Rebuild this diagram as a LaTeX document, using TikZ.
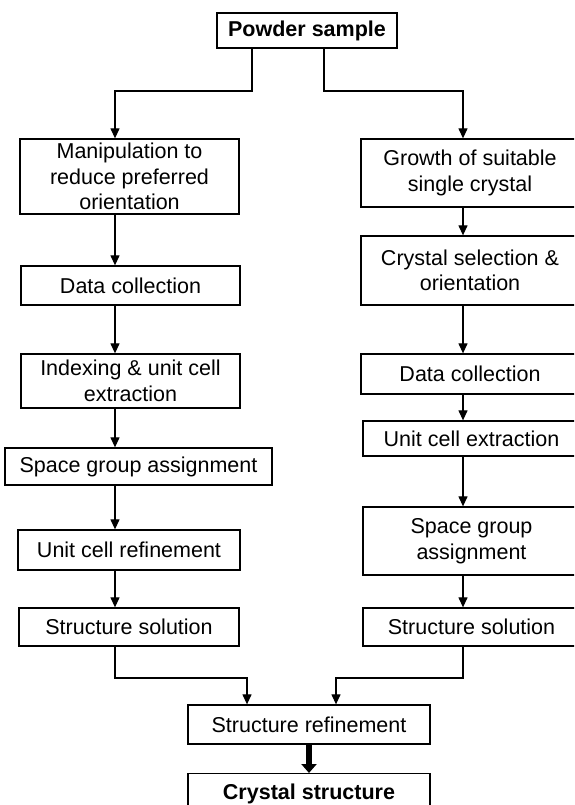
\documentclass[tikz,border=0pt]{standalone}
\usepackage{fontspec}
\setmainfont{Liberation Sans}
\usetikzlibrary{arrows.meta}
\begin{document}
\begin{tikzpicture}[x=1pt,y=-1pt,
  bx/.style={draw=black,line width=1.3pt,inner sep=0pt,align=center,
    font=\fontsize{21.5}{25.6}\selectfont},
  bxb/.style={bx,font=\fontsize{21.5}{25.6}\selectfont\bfseries},
  arr/.style={draw=black,line width=1.2pt,-{Triangle[length=10pt,width=9pt]}},
  thickarr/.style={draw=black,line width=6pt,-{Triangle[length=9pt,width=15pt]}}
]
\clip (0,0) rectangle (574,805);
% top
\node[bxb,minimum width=180,minimum height=35] (ps) at (307,30.5) {Powder sample};
% left column
\node[bx,minimum width=219,minimum height=75] (m1) at (129.5,176.5) {Manipulation to\\reduce preferred\\orientation};
\node[bx,minimum width=219,minimum height=39] (dc1) at (130.5,285.5) {Data collection};
\node[bx,minimum width=219,minimum height=54] (ix) at (130.5,381) {Indexing \& unit cell\\extraction};
\node[bx,minimum width=267,minimum height=37] (sg1) at (138.5,466.5) {Space group assignment};
\node[bx,minimum width=222,minimum height=40] (ucr) at (129,550) {Unit cell refinement};
\node[bx,minimum width=220,minimum height=38] (ss1) at (129,627) {Structure solution};
% right column
\node[bx,minimum width=218,minimum height=68] (gr) at (470,173) {Growth of suitable\\single crystal};
\node[bx,minimum width=218,minimum height=69] (cs2) at (470,270.5) {Crystal selection \&\\orientation};
\node[bx,minimum width=218,minimum height=40] (dc2) at (470,374) {Data collection};
\node[bx,minimum width=217,minimum height=35] (uce) at (471.5,438.5) {Unit cell extraction};
\node[bx,minimum width=217,minimum height=68] (sg2) at (471.5,541) {Space group\\assignment};
\node[bx,minimum width=217,minimum height=38] (ss2) at (471.5,627) {Structure solution};
% bottom
\node[bx,minimum width=242,minimum height=39] (sr) at (309,724.5) {Structure refinement};
\node[bxb,minimum width=242,inner ysep=10.5pt,anchor=north] (cst) at (309,773) {Crystal structure};
% helper coordinates
\coordinate (lx) at (115,0);
\coordinate (rx) at (463,0);
\coordinate (b1) at (0,91);
\coordinate (b2) at (0,678);
% branch from top
\draw[arr] ([xshift=-55pt]ps.south) |- (b1 -| lx) -- (m1.north -| lx);
\draw[arr] ([xshift=17pt]ps.south) |- (b1 -| rx) -- (gr.north -| rx);
% left chain
\draw[arr] (m1.south -| lx) -- (dc1.north -| lx);
\draw[arr] (dc1.south -| lx) -- (ix.north -| lx);
\draw[arr] (ix.south -| lx) -- (sg1.north -| lx);
\draw[arr] (sg1.south -| lx) -- (ucr.north -| lx);
\draw[arr] (ucr.south -| lx) -- (ss1.north -| lx);
% right chain
\draw[arr] (gr.south -| rx) -- (cs2.north -| rx);
\draw[arr] (cs2.south -| rx) -- (dc2.north -| rx);
\draw[arr] (dc2.south -| rx) -- (uce.north -| rx);
\draw[arr] (uce.south -| rx) -- (sg2.north -| rx);
\draw[arr] (sg2.south -| rx) -- (ss2.north -| rx);
% merge
\draw[arr] (ss1.south -| lx) |- ([xshift=-62pt]b2 -| sr.south) -- ([xshift=-62pt]sr.north);
\draw[arr] (ss2.south -| rx) |- ([xshift=27pt]b2 -| sr.south) -- ([xshift=27pt]sr.north);
% thick arrow
\draw[thickarr] (sr.south) -- (cst.north);
\end{tikzpicture}
\end{document}
